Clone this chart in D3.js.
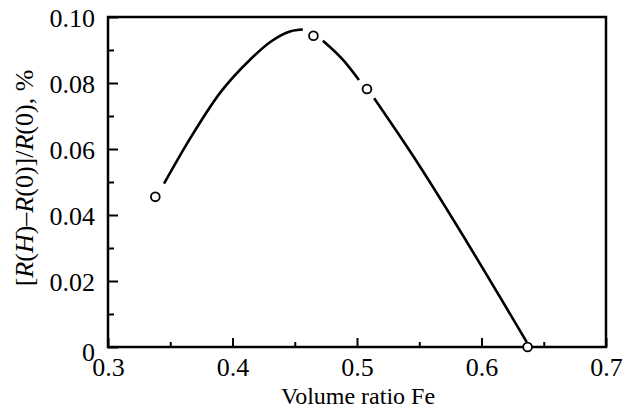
<!DOCTYPE html>
<html>
<head>
<meta charset="utf-8">
<script src="https://cdn.jsdelivr.net/npm/d3@7"></script>
<style>
  body { margin: 0; background: #fff; }
</style>
</head>
<body>
<div id="chart"></div>
<script>
// measured points (open circles)
const pointX = [0.338, 0.465, 0.508, 0.637];
const pointY = [0.0455, 0.0943, 0.0782, 0.0];

// smooth guide curve, drawn in pieces between the circles
const curveA = [[0.345, 0.0495], [0.366, 0.0632], [0.390, 0.0770], [0.4145, 0.0872], [0.4306, 0.0925], [0.4468, 0.0957], [0.4565, 0.0962]];
const curveB = [[0.4726, 0.0928], [0.4895, 0.0867], [0.5016, 0.0809]];
const curveC = [[0.5137, 0.0754], [0.541, 0.0602], [0.6363, 0.0015]];

const xTicks = [0.3, 0.4, 0.5, 0.6, 0.7];
const yTicks = [0, 0.02, 0.04, 0.06, 0.08, 0.10];

const FONT = '"Liberation Serif", "Times New Roman", "DejaVu Serif", serif';
const width = 633, height = 410;
const margin = {top: 17, right: 27, bottom: 63, left: 108};

const svg = d3.select("#chart").append("svg")
    .attr("width", width)
    .attr("height", height)
    .attr("font-family", FONT);

const x = d3.scaleLinear().domain([0.3, 0.7]).range([margin.left, width - margin.right]);
const y = d3.scaleLinear().domain([0, 0.10]).range([height - margin.bottom, margin.top]);

// minor ticks
const xMinor = d3.range(0.35, 0.7, 0.1);
const yMinor = d3.range(0.01, 0.1, 0.02);

svg.append("g")
    .attr("transform", `translate(0,${y(0)})`)
    .call(d3.axisBottom(x).tickValues(xMinor).tickSize(-5).tickFormat(""))
    .call(g => g.select(".domain").remove())
    .call(g => g.selectAll("line").attr("stroke-width", 2));

svg.append("g")
    .attr("transform", `translate(${x(0.3)},0)`)
    .call(d3.axisLeft(y).tickValues(yMinor).tickSize(-6).tickFormat(""))
    .call(g => g.select(".domain").remove())
    .call(g => g.selectAll("line").attr("stroke-width", 2));

// major ticks + labels
svg.append("g")
    .attr("transform", `translate(0,${y(0)})`)
    .call(d3.axisBottom(x).tickValues(xTicks).tickSize(-9).tickPadding(11).tickFormat(d3.format(".1f")))
    .call(g => g.attr("font-family", FONT).attr("font-size", 26))
    .call(g => g.select(".domain").remove())
    .call(g => g.selectAll("line").attr("stroke-width", 2));

svg.append("g")
    .attr("transform", `translate(${x(0.3)},0)`)
    .call(d3.axisLeft(y).tickValues(yTicks).tickSize(-10).tickPadding(13)
        .tickFormat(d => d === 0 ? "0" : d3.format(".2f")(d)))
    .call(g => g.attr("font-family", FONT).attr("font-size", 26))
    .call(g => g.select(".domain").remove())
    .call(g => g.selectAll("line").attr("stroke-width", 2))
    .call(g => g.selectAll("text").attr("dy", "0.36em"));

// the "0" label sits a little lower in the original
svg.selectAll("text").filter(function () { return this.textContent === "0"; })
    .attr("dy", "0.5em");

// frame
svg.append("rect")
    .attr("x", x(0.3))
    .attr("y", y(0.10))
    .attr("width", x(0.7) - x(0.3))
    .attr("height", y(0) - y(0.10))
    .attr("fill", "none")
    .attr("stroke", "#000")
    .attr("stroke-width", 2.5);

// curve
const line = d3.line()
    .x(d => x(d[0]))
    .y(d => y(d[1]))
    .curve(d3.curveMonotoneX);

[curveA, curveB, curveC].forEach(seg => {
    svg.append("path")
        .datum(seg)
        .attr("d", line)
        .attr("fill", "none")
        .attr("stroke", "#000")
        .attr("stroke-width", 2.6);
});

// points
svg.selectAll("circle.pt")
    .data(pointX.map((v, i) => [v, pointY[i]]))
    .enter()
    .append("circle")
    .attr("class", "pt")
    .attr("cx", d => x(d[0]))
    .attr("cy", d => y(d[1]))
    .attr("r", 4.4)
    .attr("fill", "#fff")
    .attr("stroke", "#000")
    .attr("stroke-width", 1.8);

// axis titles
svg.append("text")
    .attr("x", 358)
    .attr("y", 404)
    .attr("text-anchor", "middle")
    .attr("font-size", 24)
    .text("Volume ratio Fe");

const yt = svg.append("text")
    .attr("transform", `translate(33,178) rotate(-90)`)
    .attr("text-anchor", "middle")
    .attr("font-size", 26);
[["[", false], ["R", true], ["(", false], ["H", true], [")\u2013", false], ["R", true],
 ["(0)]/", false], ["R", true], ["(0), %", false]].forEach(([t, it]) => {
    yt.append("tspan").attr("font-style", it ? "italic" : "normal").text(t);
});
</script>
</body>
</html>
